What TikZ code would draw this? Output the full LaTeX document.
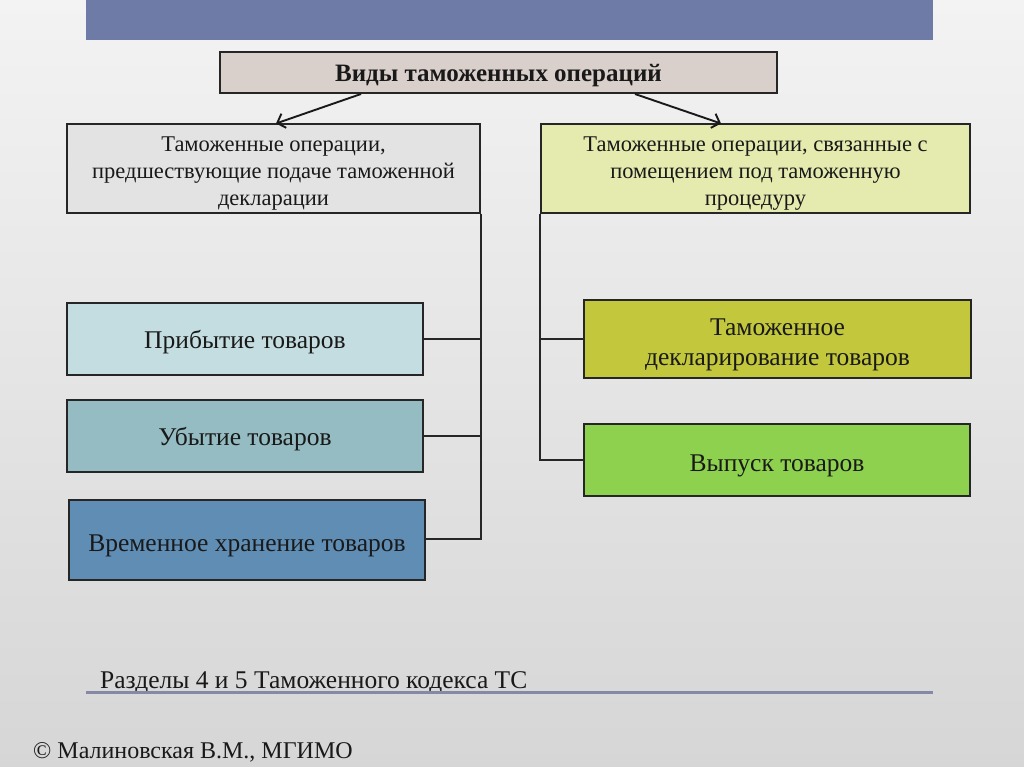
\documentclass[tikz,border=0pt]{standalone}
\usepackage{fontspec}
\setmainfont{Liberation Serif}
\usetikzlibrary{arrows.meta}
\definecolor{bgtop}{HTML}{F3F3F3}
\definecolor{bgbot}{HTML}{D6D6D6}
\definecolor{banner}{HTML}{6E7BA6}
\definecolor{titlefill}{HTML}{D9CFCB}
\definecolor{leftfill}{HTML}{E3E3E3}
\definecolor{rightfill}{HTML}{E5EBAF}
\definecolor{arrfill}{HTML}{C4DDE0}
\definecolor{depfill}{HTML}{94BCC2}
\definecolor{tmpfill}{HTML}{5F8DB4}
\definecolor{declfill}{HTML}{C2C73C}
\definecolor{relfill}{HTML}{8ED14F}
\definecolor{rulecol}{HTML}{8589A6}
\newcommand\dn[2][4pt]{\raisebox{-#1}[\height][\depth]{\begin{tabular}{@{}c@{}}#2\end{tabular}}}
\tikzset{
  box/.style={draw=black!85, line width=2pt, rectangle, inner sep=2pt, text=black!90},
  conn/.style={draw=black!85, line width=1.4pt},
  arr/.style={draw=black!90, line width=1.9pt, -{Straight Barb[length=7pt,width=15pt,line width=0pt 1]}},
  big/.style={font=\fontsize{25.5}{30}\selectfont},
  mid/.style={font=\fontsize{22.5}{27}\selectfont},
}
\begin{document}
\begin{tikzpicture}[x=1pt,y=-1pt]
\useasboundingbox (0,0) rectangle (1024,767);
\shade[top color=bgtop, bottom color=bgbot] (0,0) rectangle (1024,767);
\fill[banner] (86,0) rectangle (933,40);

\node[box, fill=titlefill, minimum width=557pt, minimum height=41pt, font=\bfseries\fontsize{25}{28}\selectfont] (title) at (498.5,72.5) {\dn[3pt]{Виды таможенных операций}};

\node[box, fill=leftfill, minimum width=413pt, minimum height=89pt, mid] (left) at (273.5,168.5) {\dn[4.5pt]{Таможенные операции,\\предшествующие подаче таможенной\\декларации}};
\node[box, fill=rightfill, minimum width=429pt, minimum height=89pt, mid] (right) at (755.5,168.5) {\dn[4.5pt]{Таможенные операции, связанные с\\помещением под таможенную\\процедуру}};

\node[box, fill=arrfill, minimum width=356pt, minimum height=72pt, big] (arrival) at (245,339) {\dn[3pt]{Прибытие товаров}};
\node[box, fill=depfill, minimum width=356pt, minimum height=72pt, big] (departure) at (245,436) {\dn[3pt]{Убытие товаров}};
\node[box, fill=tmpfill, minimum width=356pt, minimum height=80pt, big] (storage) at (247,540) {\dn[5pt]{Временное хранение товаров}};

\node[box, fill=declfill, minimum width=387pt, minimum height=78pt, font=\fontsize{25.5}{30}\selectfont] (decl) at (777.5,339) {\dn[5pt]{Таможенное\\декларирование товаров}};
\node[box, fill=relfill, minimum width=386pt, minimum height=72pt, big] (release) at (777,460) {\dn[5pt]{Выпуск товаров}};

\coordinate (ta) at (361,94);
\coordinate (tb) at (635,94);
\coordinate (la) at (276,123.5);
\coordinate (rb) at (721,123.5);
\draw[arr] (ta) -- (la);
\draw[arr] (tb) -- (rb);

\coordinate (lbus) at (480,539);
\draw[conn] (left.south east) coordinate (lt) -- (lt |- lbus) -- (storage.east |- lbus);
\draw[conn] (arrival.east) -- (lt |- arrival.east);
\draw[conn] (departure.east) -- (lt |- departure.east);
\draw[conn] (right.south west) coordinate (rt) -- (rt |- release.west) -- (release.west);
\draw[conn] (decl.west) -- (rt |- decl.west);

\node[anchor=base west, inner sep=0pt, big, text=black!90] (src) at (100,688) {Разделы 4 и 5 Таможенного кодекса ТС};
\draw[rulecol, line width=3pt] (86,692) coordinate (r1) -- (933,692) coordinate (r2);
\node[anchor=base west, inner sep=0pt, font=\fontsize{24}{28}\selectfont, text=black!90] (copy) at (33,758) {© Малиновская В.М., МГИМО};
\end{tikzpicture}
\end{document}
